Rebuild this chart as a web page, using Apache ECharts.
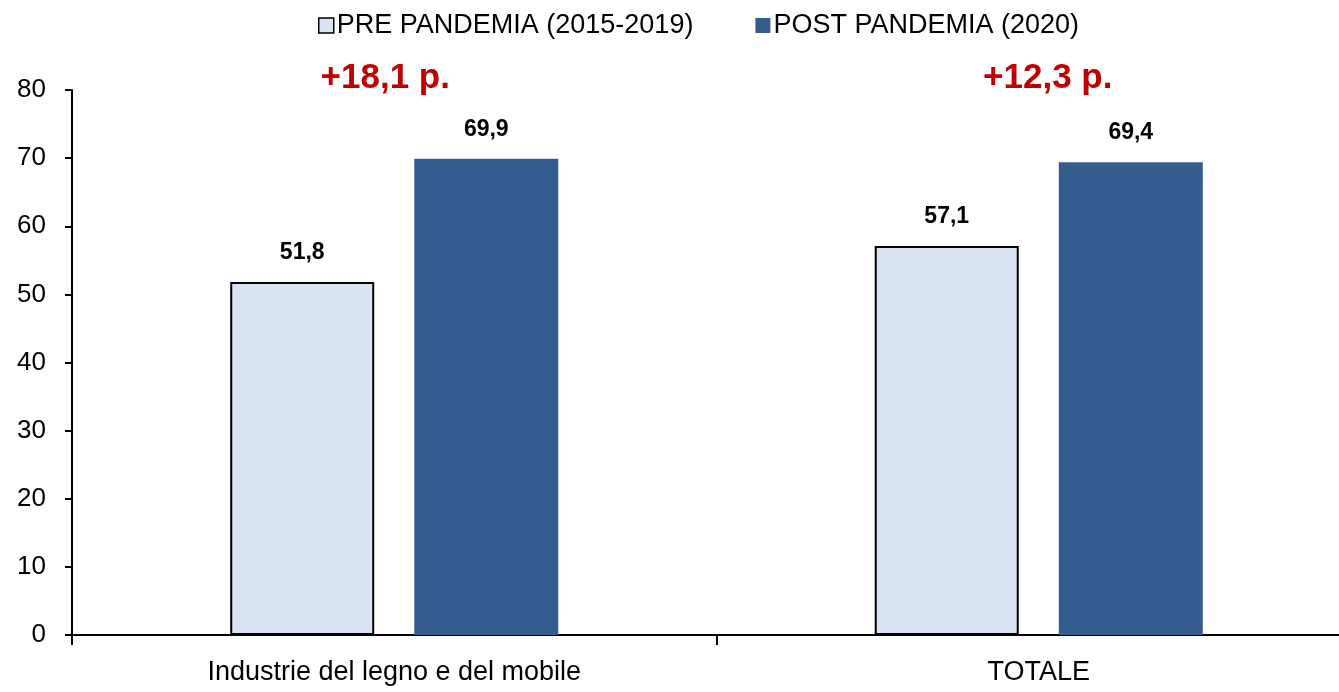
<!DOCTYPE html>
<html><head><meta charset="utf-8">
<script src="https://cdn.jsdelivr.net/npm/echarts@6/dist/echarts.min.js"></script>
<style>html,body{margin:0;padding:0;background:#fff;overflow:hidden;width:1339px;height:692px}#c{width:1361px;height:692px}</style>
</head><body><div id="c"></div>
<script>
const categories = ["Industrie del legno e del mobile", "TOTALE"];
const seriesNames = ["PRE PANDEMIA (2015-2019)", "POST PANDEMIA (2020)"];
const preValues = [51.8, 57.1];
const postValues = [69.9, 69.4];
const diffLabels = ["+18,1 p.", "+12,3 p."];
const yTicks = [0, 10, 20, 30, 40, 50, 60, 70, 80];

const FONT = '"Liberation Sans Narrow", "Arial Narrow", "Liberation Sans", Arial, sans-serif';
const fmt = v => v.toFixed(1).replace('.', ',');
const chart = echarts.init(document.getElementById('c'));
chart.setOption({
  animation: false,
  textStyle: { fontFamily: FONT },
  legend: {
    top: 7, left: 313, itemWidth: 15, itemHeight: 15, itemGap: 62, icon: 'rect',
    textStyle: { fontFamily: FONT, fontSize: 27, color: '#000', padding: [0, 0, 0, -2] },
    data: [
      { name: seriesNames[0], itemStyle: { color: '#DAE3F3', borderColor: '#000', borderWidth: 1.5 } },
      { name: seriesNames[1], itemStyle: { color: '#345D8F' } }
    ]
  },
  grid: { left: 72, right: 0, top: 90, bottom: 57, containLabel: false },
  xAxis: {
    type: 'category', data: categories,
    axisLine: { lineStyle: { color: '#000', width: 2 } },
    axisTick: { show: true, length: 10, lineStyle: { color: '#000', width: 2 } },
    axisLabel: { fontFamily: FONT, fontSize: 27, color: '#000', margin: 24 }
  },
  yAxis: {
    type: 'value', min: yTicks[0], max: yTicks[yTicks.length - 1], interval: 10,
    splitLine: { show: false },
    axisLine: { show: true, lineStyle: { color: '#000', width: 2 } },
    axisTick: { show: true, length: 7, lineStyle: { color: '#000', width: 2 } },
    axisLabel: { fontFamily: FONT, fontSize: 26, color: '#000', margin: 26 }
  },
  series: [
    {
      name: seriesNames[0], type: 'bar', data: preValues, barWidth: 144, barGap: '27.8%',
      itemStyle: { color: '#DAE3F3', borderColor: '#000', borderWidth: 2 },
      label: { show: true, position: 'top', distance: 18, fontFamily: FONT, fontSize: 23, fontWeight: 'bold', color: '#000', formatter: p => fmt(p.value) }
    },
    {
      name: seriesNames[1], type: 'bar', data: postValues, barWidth: 144,
      itemStyle: { color: '#345D8F' },
      label: { show: true, position: 'top', distance: 18, fontFamily: FONT, fontSize: 23, fontWeight: 'bold', color: '#000', formatter: p => fmt(p.value) }
    }
  ]
});
const graphics = categories.map((c, i) => {
  const pt = chart.convertToPixel({ gridIndex: 0 }, [i, 80]);
  return {
    type: 'text', x: pt[0] + (i === 0 ? -9 : 9), y: pt[1] - 12,
    style: { text: diffLabels[i], fontFamily: FONT, fontSize: 35, fontWeight: 'bold', fill: '#C00000', align: 'center', verticalAlign: 'middle' }
  };
});
chart.setOption({ graphic: graphics });
</script></body></html>
